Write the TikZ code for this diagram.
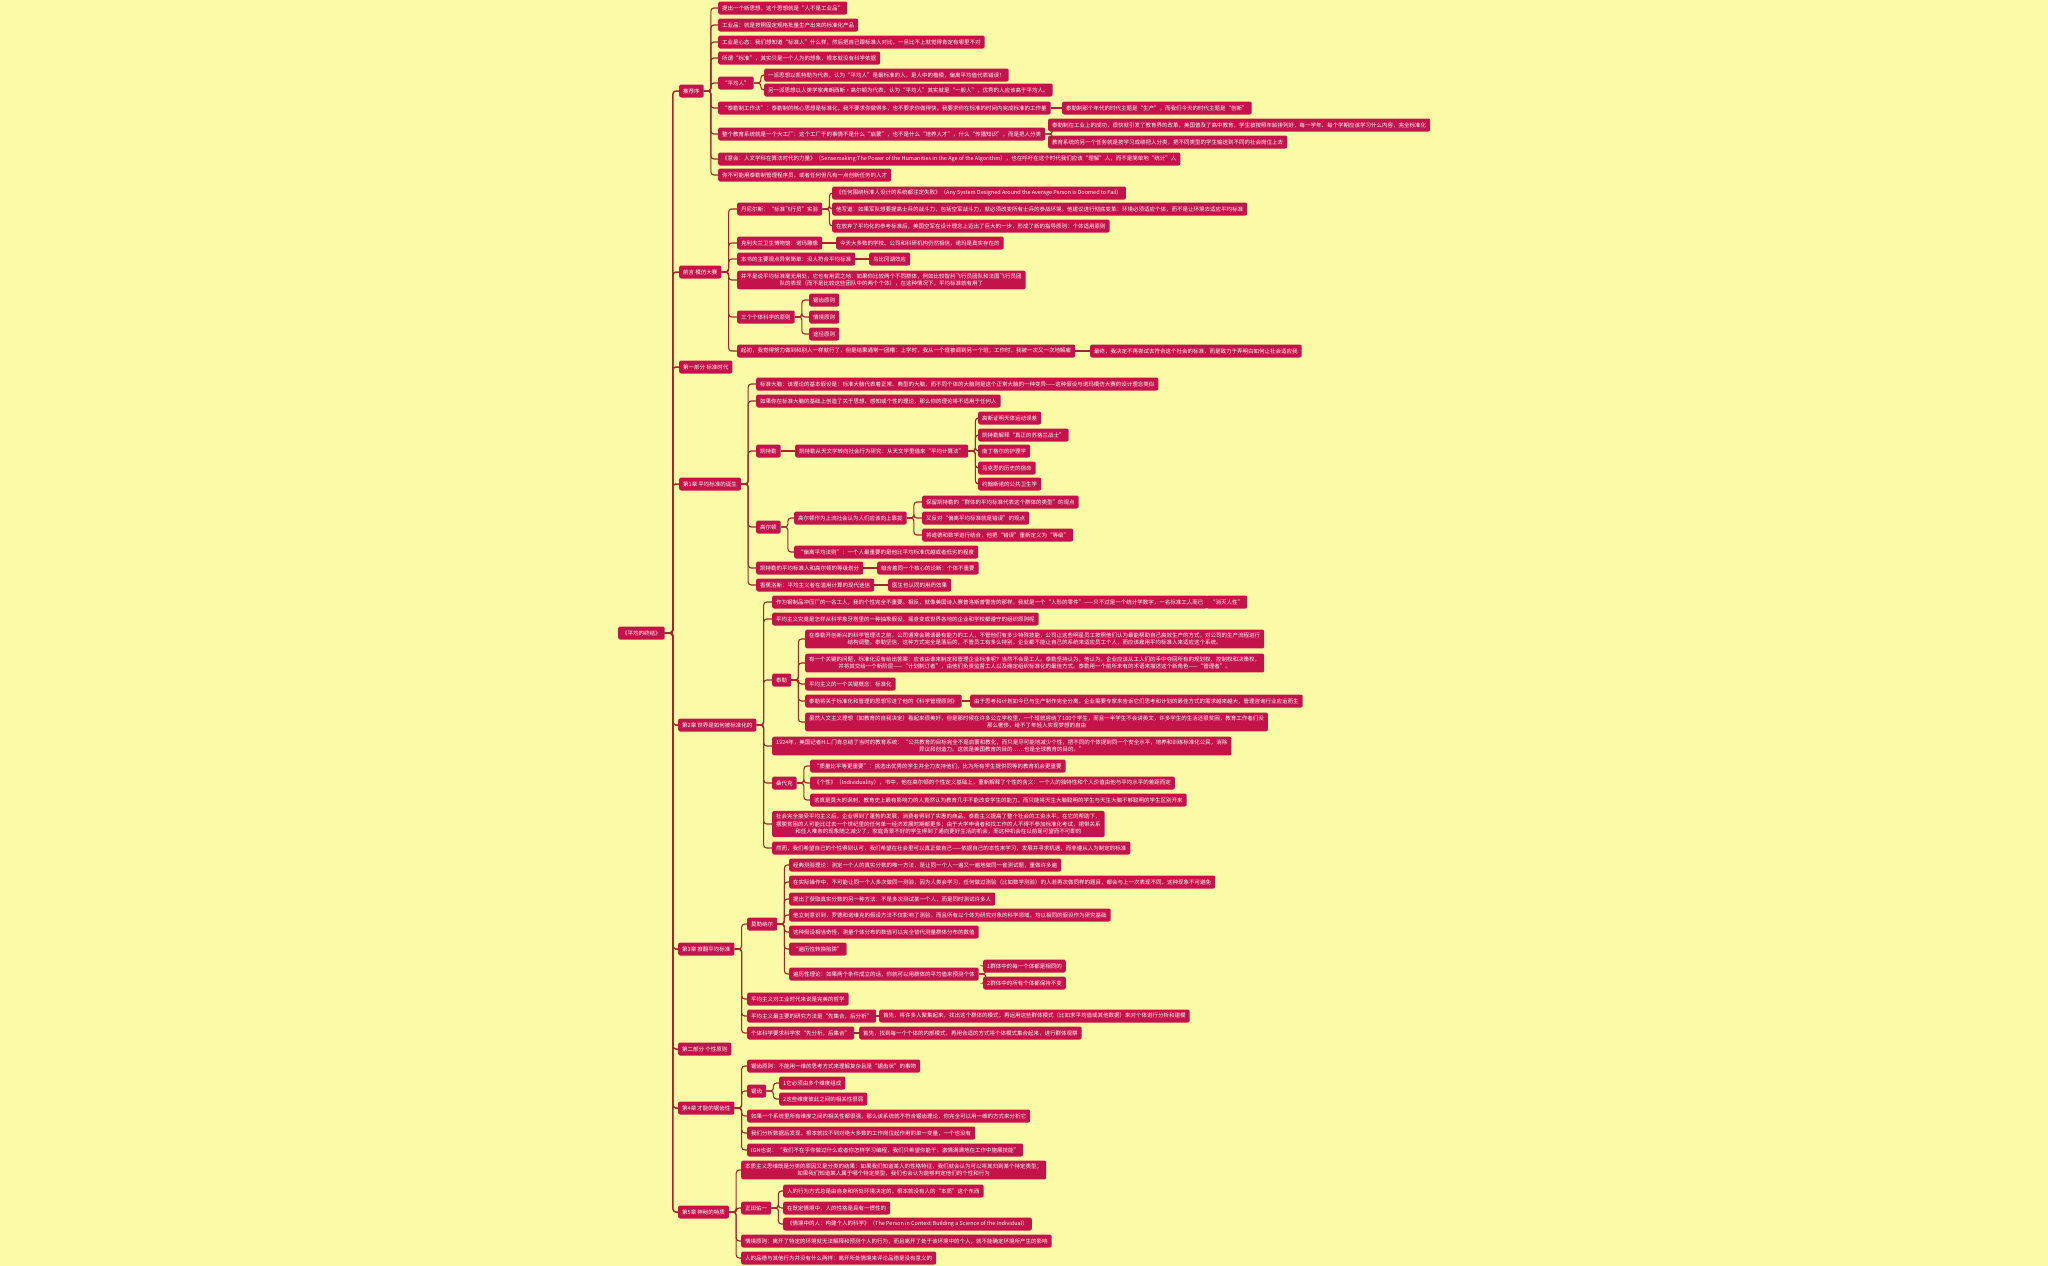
\documentclass[tikz,border=0pt]{standalone}
\usepackage{fontspec}
\setmainfont{Noto Sans CJK SC}
\definecolor{bgyellow}{HTML}{FBFAA6}
\definecolor{boxred}{HTML}{C4124A}
\definecolor{linkred}{HTML}{A1262E}
\tikzset{
  topic/.style={fill=boxred, text=white, rounded corners=2pt, anchor=west, align=center,
    inner xsep=4pt, inner ysep=3pt, minimum height=13pt, font=\fontsize{5.5}{7.5}\selectfont},
  link/.style={draw=linkred, line width=1.1pt, rounded corners=3pt}
}
\newcommand{\branch}[2]{\foreach \c in {#2} \draw[link] (#1.east) -- ++(7,0) |- (\c.west);}
\begin{document}
\begin{tikzpicture}[x=1pt,y=-1pt]
    \fill[bgyellow] (0,0) rectangle (2048,1266);
    \useasboundingbox (0,0) rectangle (2048,1266);

    \node[topic] (root) at (618,633) {《平均的终结》};

    \node[topic] (pref) at (679,91) {推荐序};
    \node[topic] (intro) at (679,272) {前言 模仿大赛};
    \node[topic] (partA) at (679,367) {第一部分 标准时代};
    \node[topic] (chA) at (679,484) {第1章 平均标准的诞生};
    \node[topic] (chB) at (678,725) {第2章 世界是如何被标准化的};
    \node[topic] (chC) at (678,949) {第3章 推翻平均标准};
    \node[topic] (partB) at (678,1049) {第二部分 个性原则};
    \node[topic] (chD) at (678,1108) {第4章 才能的锯齿性};
    \node[topic] (chE) at (678,1212) {第5章 神秘的特质};
    \foreach \c in {pref,intro,partA,chA,chB,chC,partB,chD,chE}
        \draw[link, line width=1.5pt] (root.east) -- ++(8,0) |- (\c.west);

    \node[topic] (p1) at (718,8) {提出一个新思想，这个思想就是“人不是工业品”};
    \node[topic] (p2) at (718,25) {工业品：就是按照固定规格批量生产出来的标准化产品};
    \node[topic] (p3) at (718,42) {工业是心态：我们想知道“标准人”什么样，然后把自己跟标准人对比，一旦比不上就觉得肯定有哪里不对};
    \node[topic] (p4) at (718,58) {所谓“标准”，其实只是一个人为的想象，根本就没有科学依据};
    \node[topic] (p5) at (718,83) {“平均人”};
    \node[topic] (p5a) at (764,75) {一派思想以凯特勒为代表，认为“平均人”是最标准的人，是人中的楷模，偏离平均值代表错误！};
    \node[topic] (p5b) at (764,90) {另一派思想以人类学家弗朗西斯·高尔顿为代表，认为“平均人”其实就是“一般人”，优秀的人应该高于平均人。};
    \node[topic] (p6) at (718,108) {“泰勒制工作法”：泰勒制的核心思想是标准化，我不要求你做得多，也不要求你做得快，我要求你在标准的时间内完成标准的工作量};
    \node[topic] (p6a) at (1062,108) {泰勒制那个年代的时代主题是“生产”，而我们今天的时代主题是“创新”};
    \node[topic] (p7) at (718,134) {整个教育系统就是一个大工厂：这个工厂干的事情不是什么“启蒙”，也不是什么“培养人才”，什么“传播知识”，而是把人分类};
    \node[topic] (p7a) at (1048,125) {泰勒制在工业上的成功，很快就引发了教育界的改革，美国普及了高中教育，学生被按照年龄排列好，每一学年、每个学期应该学习什么内容，完全标准化};
    \node[topic] (p7b) at (1048,142) {教育系统的另一个任务就是按学习成绩把人分类，把不同类型的学生输送到不同的社会岗位上去};
    \node[topic] (p8) at (718,159) {《意会：人文学科在算法时代的力量》（Sensemaking:The Power of the Humanities in the Age of the Algorithm），也在呼吁在这个时代我们应该“理解”人，而不是简单地“统计”人};
    \node[topic] (p9) at (718,175) {你不可能用泰勒制管理程序员，或者任何但凡有一点创新任务的人才};
    \branch{pref}{p1,p2,p3,p4,p5,p6,p7,p8,p9}
    \branch{p5}{p5a,p5b}
    \branch{p7}{p7a,p7b}
    \draw[link] (p6) -- (p6a);

    \node[topic] (i1) at (737,209) {丹尼尔斯：“标准飞行员”实验};
    \node[topic] (i1a) at (832,193) {《任何围绕标准人设计的系统都注定失败》（Any System Designed Around the Average Person is Doomed to Fail）};
    \node[topic] (i1b) at (832,209) {他写道：如果军队想要提高士兵的战斗力，包括空军战斗力，就必须改变所有士兵的参战环境。他建议进行彻底变革：环境必须适应个体，而不是让环境去适应平均标准};
    \node[topic] (i1c) at (832,226) {在放弃了平均化的参考标准后，美国空军在设计理念上迈出了巨大的一步，形成了新的指导原则：个体适用原则};
    \node[topic] (i2) at (737,243) {克利夫兰卫生博物馆：诺玛雕像};
    \node[topic] (i2a) at (836,243) {今天大多数的学校、公司和科研机构仍然相信，诺玛是真实存在的};
    \node[topic] (i3) at (737,259) {本书的主要观点异常简单：没人符合平均标准};
    \node[topic] (i3a) at (869,259) {乌比冈湖效应};
    \node[topic] (i4) at (737,280) {并不是说平均标准毫无用处，它也有用武之地：如果你比较两个不同群体，例如比较智利飞行员团队和法国飞行员团\\队的表现（而不是比较这些团队中的两个个体），在这种情况下，平均标准就有用了};
    \node[topic] (i5) at (737,317) {三个个体科学的原则};
    \node[topic] (i5a) at (809,300) {锯齿原则};
    \node[topic] (i5b) at (809,317) {情境原则};
    \node[topic] (i5c) at (809,334) {途径原则};
    \node[topic] (i6) at (737,351) {起初，我觉得努力做到和别人一样就行了，但是结果通常一团糟：上学时，我从一个班被调到另一个班；工作时，我被一次又一次地解雇};
    \node[topic] (i6a) at (1090,351) {最终，我决定不再尝试去符合这个社会的标准，而是致力于弄明白如何让社会适应我};
    \branch{intro}{i1,i2,i3,i4,i5,i6}
    \branch{i1}{i1a,i1b,i1c}
    \branch{i5}{i5a,i5b,i5c}
    \draw[link] (i2) -- (i2a);
    \draw[link] (i3) -- (i3a);
    \draw[link] (i6) -- (i6a);

    \node[topic] (a1) at (756,384) {标准大脑：该理论的基本假设是：标准大脑代表着正常、典型的大脑，而不同个体的大脑则是这个正常大脑的一种变异——这种假设与诺玛模仿大赛的设计理念类似};
    \node[topic] (a2) at (756,401) {如果你在标准大脑的基础上创造了关于思想、感知或个性的理论，那么你的理论将不适用于任何人};
    \node[topic] (a3) at (756,451) {凯特勒};
    \node[topic] (a3a) at (795,451) {凯特勒从天文学转向社会行为研究：从天文学里借来“平均计算法”};
    \node[topic] (a3a1) at (978,418) {高斯证明天体运动误差};
    \node[topic] (a3a2) at (978,435) {凯特勒解释“真正的苏格兰战士”};
    \node[topic] (a3a3) at (978,451) {南丁格尔的护理学};
    \node[topic] (a3a4) at (978,468) {马克思的历史的宿命};
    \node[topic] (a3a5) at (978,484) {约翰斯诺的公共卫生学};
    \node[topic] (a4) at (756,527) {高尔顿};
    \node[topic] (a4a) at (794,518) {高尔顿作为上流社会认为人们应该向上靠拢};
    \node[topic] (a4a1) at (922,502) {保留凯特勒的“群体的平均标准代表这个群体的类型”的观点};
    \node[topic] (a4a2) at (922,518) {又反对“偏离平均标准就是错误”的观点};
    \node[topic] (a4a3) at (922,535) {将道德和数学进行结合，他把“错误”重新定义为“等级”};
    \node[topic] (a4b) at (794,552) {“偏离平均法则”：一个人最重要的是他比平均标准优越或者低劣的程度};
    \node[topic] (a5) at (756,568) {凯特勒的平均标准人和高尔顿的等级划分};
    \node[topic] (a5a) at (877,568) {暗含着同一个核心的论断：个体不重要};
    \node[topic] (a6) at (756,585) {香蕉洛斯：平均主义者在滥用计算的现代迷信};
    \node[topic] (a6a) at (888,585) {医生也认同的用药效果};
    \branch{chA}{a1,a2,a3,a4,a5,a6}
    \branch{a3a}{a3a1,a3a2,a3a3,a3a4,a3a5}
    \branch{a4}{a4a,a4b}
    \branch{a4a}{a4a1,a4a2,a4a3}
    \draw[link] (a3) -- (a3a);
    \draw[link] (a5) -- (a5a);
    \draw[link] (a6) -- (a6a);

    \node[topic] (b1) at (772,602) {作为钢制品冲压厂的一名工人，我的个性完全不重要。相反，就像美国诗人赛普洛斯曾警告的那样，我就是一个“人形的零件”——只不过是一个统计学数字，一名标准工人而已};
    \node[topic] (b1a) at (1206,602) {“消灭人性”};
    \node[topic] (b2) at (772,619) {平均主义究竟是怎样从科学象牙塔里的一种抽象假设，摇身变成世界各地的企业和学校都遵守的组织原则呢};
    \node[topic] (b3) at (772,680) {泰勒};
    \node[topic] (b3a) at (805,639) {在泰勒开创新兴的科学管理法之前，公司通常会聘请最有能力的工人，不管他们有多少特殊技能，公司让这些明星员工按照他们认为最能帮助自己高效生产的方式，对公司的生产流程进行\\结构调整。泰勒坚信，这种方式完全是落后的，不管员工有多么特别，企业都不能让自己的系统来适应员工个人，而应该雇用平均标准人来适应这个系统。};
    \node[topic] (b3b) at (805,663) {有一个关键的问题，标准化没有给出答案：应该由谁来制定和管理企业标准呢？当然不会是工人。泰勒坚持认为，他认为，企业应该从工人们的手中夺回所有的规划权、控制权和决策权，\\并将其交给一个新阶层——“计划制订者”，由他们负责监督工人以及确定组织标准化的最佳方式。泰勒用一个前所未有的术语来描述这个新角色——“管理者”。};
    \node[topic] (b3c) at (805,684) {平均主义的一个关键概念：标准化};
    \node[topic] (b3d) at (805,701) {泰勒将关于标准化和管理的思想写进了他的《科学管理原则》};
    \node[topic] (b3d1) at (970,701) {由于思考和计划如今已与生产制作完全分离，企业需要专家来告诉它们思考和计划的最佳方式的需求越来越大，管理咨询行业应运而生};
    \node[topic] (b3e) at (805,722) {虽然人文主义理想（如教育的自我决定）看起来很美好，但是那时候在许多公立学校里，一个班就容纳了100个学生，而且一半学生不会讲英文，许多学生的生活还很贫困，教育工作者们没\\那么奢侈，给不了年轻人实现梦想的自由};
    \node[topic] (b4) at (772,746) {1924年，美国记者H.L.门肯总结了当时的教育系统：“公共教育的目标完全不是启蒙和教化，而只是尽可能地减少个性，把不同的个体提到同一个安全水平，培养和训练标准化公民，消除\\异议和创造力。这就是美国教育的目的……也是全球教育的目的。”};
    \node[topic] (b5) at (772,783) {桑代克};
    \node[topic] (b5a) at (810,766) {“质量比平等更重要”：挑选出优秀的学生并全力支持他们，比为所有学生提供同等的教育机会更重要};
    \node[topic] (b5b) at (810,783) {《个性》（Individuality），书中，他在高尔顿的个性定义基础上，重新解释了个性的含义：一个人的独特性和个人价值由他与平均水平的差距而定};
    \node[topic] (b5c) at (810,800) {这真是莫大的讽刺，教育史上最有影响力的人竟然认为教育几乎不能改变学生的能力，而只能将天生大脑聪明的学生与天生大脑不够聪明的学生区别开来};
    \node[topic] (b6) at (772,824) {社会完全接受平均主义后，企业得到了蓬勃的发展，消费者得到了实惠的商品，泰勒主义提高了整个社会的工资水平，在它的帮助下，\\摆脱贫困的人可能比过去一个世纪里的任何单一经济发展时期都更多；由于大学申请者和找工作的人不得不参加标准化考试，裙带关系\\和任人唯亲的现象随之减少了，家庭背景不好的学生得到了通向更好生活的机会，而这种机会在以前是可望而不可即的};
    \node[topic] (b7) at (772,848) {然而，我们希望自己的个性得到认可，我们希望在社会里可以真正做自己——依据自己的本性来学习，发展并寻求机遇，而非遵从人为制定的标准};
    \branch{chB}{b1,b2,b3,b4,b5,b6,b7}
    \branch{b3}{b3a,b3b,b3c,b3d,b3e}
    \branch{b5}{b5a,b5b,b5c}
    \draw[link] (b1) -- (b1a);
    \draw[link] (b3d) -- (b3d1);

    \node[topic] (c1) at (747,924) {莫勒纳尔};
    \node[topic] (c1a) at (789,865) {经典测验理论：测定一个人的真实分数的唯一方法，是让同一个人一遍又一遍地做同一套测试题，重做许多遍};
    \node[topic] (c1b) at (789,882) {在实际操作中，不可能让同一个人多次做同一测验，因为人类会学习，任何做过测验（比如数学测验）的人若再次做同样的题目，都会与上一次表现不同，这种现象不可避免};
    \node[topic] (c1c) at (789,899) {提出了获取真实分数的另一种方法：不是多次测试某一个人，而是同时测试许多人};
    \node[topic] (c1d) at (789,915) {他立刻意识到，罗德和诺维克的假设方法不仅影响了测验，而且所有以个体为研究对象的科学领域，均以相同的假设作为研究基础};
    \node[topic] (c1e) at (789,932) {这种假设相当奇怪，测量个体分布的数值可以完全替代测量群体分布的数值};
    \node[topic] (c1f) at (789,949) {“遍历性转换陷阱”};
    \node[topic] (c1g) at (789,974) {遍历性理论：如果两个条件成立的话，你就可以用群体的平均值来预测个体};
    \node[topic] (c1g1) at (983,966) {1群体中的每一个体都是相同的};
    \node[topic] (c1g2) at (983,983) {2群体中的所有个体都保持不变};
    \node[topic] (c2) at (747,999) {平均主义对工业时代来说是完美的哲学};
    \node[topic] (c3) at (747,1016) {平均主义最主要的研究方法是“先集合，后分析”};
    \node[topic] (c3a) at (879,1016) {首先，将许多人聚集起来，找出这个群体的模式；再运用这些群体模式（比如求平均值或其他数据）来对个体进行分析和建模};
    \node[topic] (c4) at (747,1033) {个体科学要求科学家“先分析，后集合”};
    \node[topic] (c4a) at (859,1033) {首先，找到每一个个体的内部模式，再用合适的方式将个体模式集合起来，进行群体观察};
    \branch{chC}{c1,c2,c3,c4}
    \branch{c1}{c1a,c1b,c1c,c1d,c1e,c1f,c1g}
    \branch{c1g}{c1g1,c1g2}
    \draw[link] (c3) -- (c3a);
    \draw[link] (c4) -- (c4a);

    \node[topic] (d1) at (747,1066) {锯齿原则：不能用一维的思考方式来理解复杂且是“锯齿状”的事物};
    \node[topic] (d2) at (747,1091) {锯齿};
    \node[topic] (d2a) at (779,1083) {1它必须由多个维度组成};
    \node[topic] (d2b) at (779,1099) {2这些维度彼此之间的相关性很弱};
    \node[topic] (d3) at (747,1116) {如果一个系统里所有维度之间的相关性都很强，那么该系统就不符合锯齿理论，你完全可以用一维的方式来分析它};
    \node[topic] (d4) at (747,1133) {我们分析数据后发现，根本就找不到对绝大多数的工作岗位起作用的单一变量，一个也没有};
    \node[topic] (d5) at (747,1150) {IGN也说：“我们不在乎你做过什么或者你怎样学习编程，我们只希望你能干，激情满满地在工作中施展技能”};
    \branch{chD}{d1,d2,d3,d4,d5}
    \branch{d2}{d2a,d2b}

    \node[topic] (e1) at (741,1170) {本质主义思维既是分类的原因又是分类的结果：如果我们知道某人的性格特征，我们就会认为可以将其归到某个特定类型；\\如果我们知道某人属于哪个特定类型，我们也会认为能够判定他们的个性和行为};
    \node[topic] (e2) at (741,1208) {正田佑一};
    \node[topic] (e2a) at (783,1191) {人的行为方式总是由自身和所处环境决定的，根本就没有人的“本质”这个东西};
    \node[topic] (e2b) at (783,1208) {在既定情境中，人的性格是具有一惯性的};
    \node[topic] (e2c) at (783,1224) {《情境中的人：构建个人的科学》（The Person in Context:Building a Science of the Individual）};
    \node[topic] (e3) at (741,1241) {情境原则：离开了特定的环境就无法解释和预测个人的行为，而且离开了处于该环境中的个人，就不能确定环境所产生的影响};
    \node[topic] (e4) at (741,1258) {人的品德与其他行为并没有什么两样：离开所处情境来评论品德是没有意义的};
    \branch{chE}{e1,e2,e3,e4}
    \branch{e2}{e2a,e2b,e2c}
\end{tikzpicture}
\end{document}
